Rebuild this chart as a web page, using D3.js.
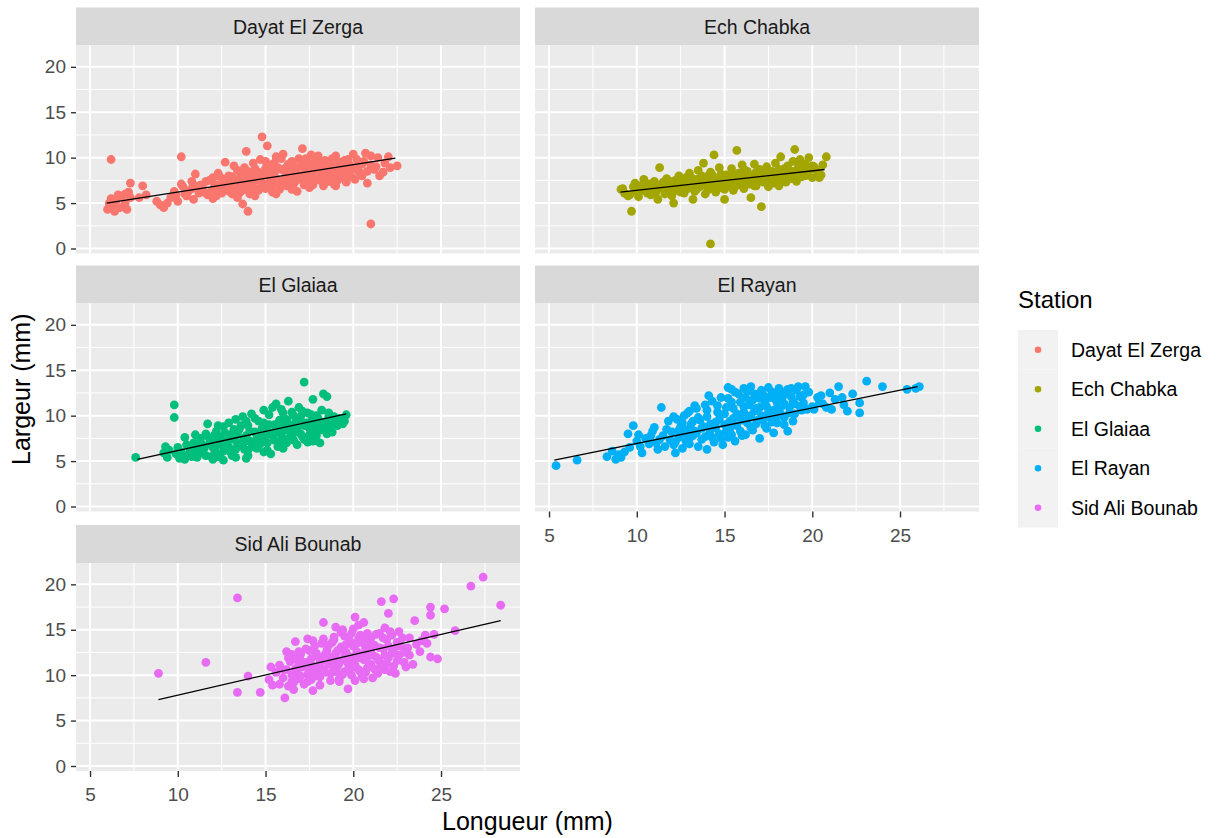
<!DOCTYPE html>
<html>
<head>
<meta charset="utf-8">
<script src="https://cdn.jsdelivr.net/npm/d3@7"></script>
<style>
  body { margin: 0; background: #fff; }
  text { font-family: "Liberation Sans", Arial, sans-serif; }
</style>
</head>
<body>
<svg id="chart" width="1223" height="838"></svg>
<script>
const stations = ['Dayat El Zerga', 'Ech Chabka', 'El Glaiaa', 'El Rayan', 'Sid Ali Bounab'];
const stationColors = ['#F8766D', '#A3A500', '#00BF7D', '#00B0F6', '#E76BF3'];
const xTicks = [5, 10, 15, 20, 25];
const yTicks = [0, 5, 10, 15, 20];

// [longueur, largeur]
const dayatElZerga = [
  [6.0,4.3],[6.1,5.0],[6.2,5.5],[6.3,4.6],[6.4,4.1],[6.1,4.8],[6.5,5.3],[6.7,4.5],[6.8,5.8],[7.0,5.0],
  [7.1,4.3],[7.3,5.6],[7.2,6.2],[7.3,7.2],[6.2,9.8],[6.6,5.9],[7.0,6.0],[7.8,5.6],[8.0,6.9],[8.2,5.9],
  [8.8,5.2],[9.0,4.8],[9.2,4.5],[9.4,5.0],[9.6,5.6],[9.8,6.3],[10.0,5.2],[10.2,7.1],[10.3,6.8],[10.2,10.1],
  [10.5,5.8],[10.6,6.3],[10.8,6.6],[10.9,5.4],[11.0,8.2],[11.2,6.1],[11.3,7.0],[11.5,6.2],[11.7,5.9],[11.8,7.5],
  [12.0,6.4],[12.1,6.9],[12.2,5.8],[12.3,8.3],[12.5,6.1],[12.6,7.2],[12.7,9.5],[12.8,6.6],[12.9,8.0],[13.0,7.4],
  [13.1,6.0],[13.2,9.1],[13.3,6.8],[13.4,8.6],[13.5,7.7],[13.6,6.3],[13.7,4.9],[13.8,8.9],[13.9,10.7],[14.0,4.1],
  [14.0,7.0],[14.1,6.4],[14.2,8.1],[14.3,9.4],[14.4,7.5],[14.5,6.6],[14.6,8.4],[14.7,9.8],[14.8,12.3],[14.8,7.2],
  [15.0,8.8],[15.1,11.3],[15.1,6.8],[15.2,7.9],[15.3,9.2],[15.4,6.2],[15.5,8.3],[15.6,10.1],[15.7,7.4],[15.8,6.5],
  [15.9,8.7],[16.0,10.4],[16.1,7.8],[16.2,9.0],[16.3,6.9],[16.4,8.2],[16.5,9.6],[16.6,7.1],[16.7,8.5],[16.8,6.3],
  [16.9,9.9],[17.0,7.6],[17.1,11.0],[17.2,8.9],[17.3,7.3],[17.4,9.4],[17.5,8.0],[17.6,10.3],[17.7,7.0],[17.8,8.6],
  [17.9,9.1],[18.0,10.2],[18.1,7.5],[18.2,8.3],[18.3,6.9],[18.4,9.7],[18.5,8.0],[18.6,7.4],[18.7,9.2],[18.8,8.7],
  [18.9,7.1],[19.0,10.2],[19.0,6.9],[19.1,8.4],[19.2,9.5],[19.3,7.8],[19.5,8.9],[19.6,7.3],[19.7,9.8],[19.8,8.2],
  [20.0,10.4],[20.1,7.6],[20.2,9.0],[20.3,8.5],[20.5,8.0],[20.6,9.6],[20.7,10.5],[20.8,7.2],[21.0,2.7],[21.0,9.2],
  [21.2,8.7],[21.4,10.0],[21.7,8.4],[21.8,9.4],[22.0,10.1],[22.1,8.9],[22.5,9.1],
  [11.4,6.8],[11.6,7.4],[11.9,6.3],[12.0,7.8],[12.2,7.0],[12.4,6.6],[12.4,7.9],[12.6,6.3],[12.7,7.6],[12.9,6.8],
  [13.0,6.2],[13.1,7.9],[13.2,6.6],[13.3,7.3],[13.5,6.1],[13.6,8.2],[13.7,7.0],[13.8,6.5],[13.9,7.7],[14.0,8.5],
  [14.1,6.0],[14.2,7.3],[14.3,6.8],[14.4,8.8],[14.5,7.9],[14.6,6.4],[14.7,7.5],[14.9,8.1],[15.0,6.6],[15.0,9.6],
  [15.2,7.3],[15.3,8.5],[15.4,7.0],[15.5,9.4],[15.6,7.7],[15.7,8.9],[15.8,7.2],[15.9,9.9],[16.0,7.5],[16.1,8.6],
  [16.2,6.9],[16.3,9.3],[16.4,7.6],[16.5,8.1],[16.6,9.0],[16.7,7.4],[16.8,8.9],[16.9,7.9],[17.0,9.5],[17.1,8.1],
  [17.2,7.0],[17.3,9.9],[17.4,8.3],[17.5,7.4],[17.6,9.0],[17.7,8.2],[17.8,9.7],[17.9,7.7],[18.0,8.9],[18.1,9.6],
  [18.2,7.9],[18.3,8.7],[18.4,7.3],[18.5,9.4],[18.6,8.6],[18.7,7.8],[18.8,9.9],[18.9,8.2],[19.0,9.0],[19.1,7.5],
  [19.2,8.6],[19.3,9.3],[19.4,8.0],[19.5,9.7],[19.6,8.5],[19.8,9.2],[19.9,7.9],[20.0,8.8],[20.2,9.8],[20.4,8.3],
  [20.5,9.3],[20.8,8.5],[21.0,10.2],[21.3,9.0],[21.5,8.0],[11.0,6.9],[10.8,7.4],[10.4,6.0],[9.9,5.9],[12.0,5.5],
  [13.4,5.6],[14.4,5.8],[15.6,6.0],[16.5,6.5],[17.5,6.7]
];

const echChabka = [
  [9.1,6.5],[9.2,6.6],[9.3,6.1],[9.5,5.8],[9.6,5.9],[9.7,4.1],[9.8,6.8],[9.9,7.2],[10.0,6.3],[10.1,5.7],
  [10.2,6.9],[10.4,7.6],[10.5,6.5],[10.6,6.1],[10.7,7.1],[10.8,5.9],[10.9,6.7],[11.0,7.4],[11.1,6.2],[11.2,5.4],
  [11.3,8.9],[11.4,6.8],[11.5,7.3],[11.6,6.0],[11.7,7.7],[11.8,6.5],[11.9,7.0],[12.0,5.8],[12.1,5.0],[12.2,7.5],
  [12.3,6.4],[12.4,8.0],[12.5,6.9],[12.6,7.3],[12.7,6.1],[12.8,7.8],[12.9,6.6],[13.0,8.3],[13.1,7.1],[13.2,5.4],
  [13.3,6.3],[13.4,7.6],[13.5,8.6],[13.6,6.8],[13.7,7.3],[13.8,9.4],[13.9,6.0],[14.0,7.9],[14.1,6.5],[14.2,0.5],
  [14.2,8.4],[14.3,7.0],[14.4,10.3],[14.5,6.2],[14.6,7.7],[14.7,8.9],[14.8,6.7],[14.9,7.4],[15.0,5.4],[15.1,8.1],
  [15.2,6.9],[15.3,7.6],[15.4,8.8],[15.5,6.4],[15.6,7.2],[15.7,10.8],[15.8,8.3],[15.9,7.0],[16.0,9.2],[16.1,6.6],
  [16.2,7.8],[16.3,8.5],[16.4,7.1],[16.5,5.6],[16.6,8.0],[16.7,9.3],[16.8,6.9],[16.9,7.5],[17.0,8.7],[17.1,4.6],
  [17.2,7.3],[17.3,8.2],[17.4,9.0],[17.5,6.8],[17.6,7.9],[17.7,8.5],[17.8,7.2],[17.9,9.4],[18.0,8.0],[18.1,6.9],
  [18.2,10.1],[18.3,7.6],[18.4,8.8],[18.5,7.3],[18.6,9.1],[18.7,8.3],[18.8,7.7],[18.9,9.6],[19.0,10.9],[19.0,8.1],
  [19.1,7.4],[19.2,8.9],[19.3,9.8],[19.4,7.9],[19.5,8.6],[19.6,9.3],[19.7,8.2],[19.8,10.0],[19.9,8.8],[20.0,7.8],
  [20.1,9.0],[20.3,8.4],[20.5,8.1],[20.6,9.2],[20.8,10.1],
  [10.3,6.4],[10.5,7.0],[10.8,6.8],[11.0,6.3],[11.3,7.0],[11.5,6.6],[11.7,6.9],[11.9,7.4],[12.0,6.6],[12.2,6.9],
  [12.4,7.1],[12.5,6.2],[12.7,7.6],[12.9,7.2],[13.0,6.7],[13.1,7.8],[13.3,7.0],[13.4,6.5],[13.6,7.5],[13.7,8.0],
  [13.9,7.1],[14.0,6.8],[14.1,7.6],[14.3,8.1],[14.4,6.9],[14.5,7.4],[14.7,7.1],[14.8,8.2],[15.0,7.3],[15.0,6.5],
  [15.2,7.9],[15.3,7.1],[15.5,8.0],[15.6,6.8],[15.7,7.6],[15.9,8.1],[16.0,7.4],[16.1,8.7],[16.3,7.3],[16.4,8.0],
  [16.6,7.5],[16.7,6.9],[16.8,8.4],[17.0,7.6],[17.1,8.1],[17.3,7.7],[17.4,8.6],[17.6,7.4],[17.7,8.0],[17.9,8.3],
  [18.0,7.5],[18.1,8.7],[18.3,8.1],[18.4,7.7],[18.6,8.4],[18.7,7.9],[18.9,8.5],[19.1,8.2],[19.2,9.5],[19.4,8.4],
  [19.6,8.0],[19.8,8.6],[20.0,9.1],[20.2,8.7],[20.4,7.8]
];

const elGlaiaa = [
  [7.6,5.4],[9.2,5.9],[9.3,6.6],[9.4,5.4],[9.5,6.2],[9.8,11.2],[9.8,9.8],[9.9,5.8],[10.0,6.5],[10.1,5.3],
  [10.2,6.0],[10.4,7.6],[10.4,5.2],[10.5,6.8],[10.6,5.7],[10.7,6.3],[10.8,5.5],[10.9,7.0],[11.0,6.1],[11.1,5.4],
  [11.2,6.7],[11.3,7.5],[11.4,5.9],[11.5,6.4],[11.6,8.0],[11.7,9.1],[11.8,6.9],[11.9,5.5],[12.0,7.3],[12.1,6.2],
  [12.2,8.3],[12.3,6.8],[12.4,5.7],[12.5,7.7],[12.6,8.8],[12.7,6.5],[12.8,7.1],[12.9,9.2],[13.0,6.0],[13.1,5.6],
  [13.1,8.0],[13.2,7.4],[13.3,9.6],[13.4,6.7],[13.5,8.5],[13.6,7.0],[13.7,9.9],[13.8,6.3],[13.9,5.3],[13.9,7.8],
  [14.0,8.9],[14.1,7.2],[14.2,10.2],[14.3,6.6],[14.4,8.2],[14.5,7.5],[14.6,9.4],[14.7,6.9],[14.8,8.6],[14.9,10.6],
  [15.0,7.8],[15.1,6.2],[15.2,9.0],[15.3,8.1],[15.4,10.9],[15.5,7.3],[15.6,11.3],[15.6,8.7],[15.7,6.6],[15.8,9.5],
  [15.9,7.9],[16.0,10.3],[16.1,8.4],[16.2,7.0],[16.3,11.6],[16.3,9.1],[16.4,7.6],[16.5,8.8],[16.6,10.0],[16.7,8.2],
  [16.8,6.8],[16.9,9.6],[17.0,8.0],[17.1,10.5],[17.2,13.7],[17.2,7.4],[17.3,9.2],[17.4,7.1],[17.5,8.6],[17.6,10.1],
  [17.7,11.8],[17.8,9.0],[17.9,7.8],[18.0,9.7],[18.1,8.4],[18.2,10.6],[18.3,12.4],[18.4,9.3],[18.5,8.0],[18.6,9.9],
  [18.8,8.2],[19.0,9.5],[19.1,8.9],[19.3,9.3],[19.4,9.1],[19.6,10.1],[12.0,5.2],[14.0,5.6],[16.0,6.4],[11.0,7.9],
  [12.6,5.1],
  [11.2,6.0],[11.4,6.8],[11.6,5.6],[11.8,7.5],[12.0,6.5],[12.1,7.9],[12.3,5.5],[12.4,7.2],[12.6,6.1],[12.7,8.1],
  [12.9,6.6],[13.0,7.6],[13.2,8.5],[13.3,6.3],[13.4,7.9],[13.6,8.9],[13.7,6.8],[13.8,7.5],[14.0,6.2],[14.1,8.3],
  [14.2,7.0],[14.4,9.7],[14.5,6.4],[14.6,8.0],[14.8,7.2],[14.9,9.2],[15.0,8.4],[15.1,7.0],[15.2,10.1],[15.4,7.8],
  [15.5,9.0],[15.7,8.2],[15.8,7.1],[15.9,10.7],[16.0,8.8],[16.1,7.4],[16.2,9.6],[16.4,8.3],[16.5,10.4],[16.6,7.3],
  [16.7,9.2],[16.8,8.6],[17.0,9.9],[17.1,7.7],[17.2,8.9],[17.4,10.3],[17.5,7.9],[17.6,9.4],[17.8,8.3],[17.9,10.0],
  [18.0,8.8],[18.2,9.2],[18.4,8.5],[18.6,10.3],[18.7,9.0],[18.9,9.9],[19.2,9.7],[19.5,9.4],[15.3,5.8],[14.9,6.0],
  [13.3,5.4],[17.7,7.2],[18.1,7.0],[18.5,12.1],[16.9,10.9],[13.9,9.4],[12.3,8.9]
];

const elRayan = [
  [5.4,4.5],[6.6,5.1],[8.3,5.5],[8.6,6.1],[8.8,5.2],[9.0,5.7],[9.1,5.4],[9.3,6.0],[9.5,8.0],[9.6,6.5],
  [9.8,8.9],[10.0,7.2],[10.2,6.6],[10.3,5.9],[10.5,7.5],[10.7,6.9],[10.9,8.3],[11.0,8.7],[11.1,7.0],[11.2,6.3],
  [11.4,10.9],[11.5,7.8],[11.6,6.6],[11.8,9.4],[11.9,7.3],[12.0,8.2],[12.1,6.8],[12.2,5.9],[12.3,9.6],[12.4,7.6],
  [12.5,8.8],[12.6,6.4],[12.7,10.0],[12.8,7.2],[12.9,8.5],[13.0,10.5],[13.0,6.9],[13.1,9.1],[13.2,7.8],[13.3,8.3],
  [13.4,10.8],[13.5,6.6],[13.6,9.5],[13.7,7.4],[13.8,8.8],[13.9,11.2],[14.0,6.3],[14.0,9.9],[14.1,7.9],[14.2,8.4],
  [14.3,11.6],[14.4,7.1],[14.5,9.3],[14.6,10.4],[14.7,8.0],[14.8,12.0],[14.9,6.8],[15.0,9.0],[15.1,10.9],[15.2,13.1],
  [15.2,7.6],[15.3,8.6],[15.4,11.5],[15.5,9.7],[15.6,7.2],[15.7,10.2],[15.8,12.4],[15.9,8.3],[16.0,9.5],[16.1,11.0],
  [16.2,7.9],[16.3,12.7],[16.4,9.9],[16.5,13.2],[16.5,8.7],[16.6,11.7],[16.7,10.5],[16.8,9.1],[16.9,12.2],[17.0,7.5],
  [17.0,10.9],[17.1,12.8],[17.2,9.6],[17.3,11.4],[17.4,8.6],[17.5,13.1],[17.5,10.3],[17.6,12.0],[17.7,9.3],[17.8,8.1],
  [17.9,11.8],[18.0,12.3],[18.0,9.2],[18.1,10.6],[18.2,12.7],[18.3,11.1],[18.4,9.8],[18.5,12.5],[18.6,8.3],[18.7,10.9],
  [18.8,13.0],[18.9,11.6],[19.0,10.2],[19.2,13.2],[19.3,12.1],[19.4,10.6],[19.5,11.4],[19.7,10.7],[19.8,12.6],[20.0,11.0],
  [20.1,10.7],[20.3,12.0],[20.5,12.2],[20.6,11.3],[20.8,10.9],[21.0,12.5],[21.1,10.7],[21.3,11.8],[21.5,13.2],[21.7,12.0],
  [22.0,10.5],[22.3,12.4],[22.7,11.4],[22.7,10.3],[23.1,13.8],[24.0,13.2],[25.4,12.9],[25.9,13.0],[26.1,13.2],
  [12.2,7.1],[12.4,8.4],[12.6,9.2],[12.8,8.0],[13.0,7.5],[13.2,9.4],[13.4,8.1],[13.5,9.8],[13.7,8.6],[13.9,7.7],
  [14.0,10.6],[14.2,9.1],[14.3,7.6],[14.5,8.7],[14.6,11.1],[14.7,9.6],[14.8,7.5],[15.0,10.2],[15.1,8.3],[15.2,11.9],
  [15.3,9.4],[15.4,7.9],[15.5,10.8],[15.6,12.6],[15.7,8.9],[15.8,9.9],[15.9,11.5],[16.0,7.8],[16.1,10.4],[16.2,12.0],
  [16.3,9.2],[16.4,11.2],[16.5,10.0],[16.6,8.4],[16.7,12.4],[16.8,10.8],[16.9,9.5],[17.0,11.9],[17.1,10.0],[17.2,12.3],
  [17.3,8.9],[17.4,11.0],[17.5,12.0],[17.6,9.8],[17.7,12.6],[17.8,10.6],[17.9,9.7],[18.0,11.4],[18.1,13.0],[18.2,10.2],
  [18.3,12.0],[18.4,11.3],[18.6,12.9],[18.7,10.3],[18.8,12.1],[19.0,11.3],[19.1,12.8],[19.3,11.0],[19.5,12.3],[19.6,13.2],
  [14.1,12.2],[13.3,11.1],[12.9,10.3],[11.7,8.5],[11.3,7.4],[10.8,7.8],[10.1,7.9],[12.1,9.9],[20.4,11.4],[21.8,11.2],
  [18.9,9.4],[18.4,9.0],[16.1,13.0],[15.4,12.9]
];

const sidAliBounab = [
  [8.9,10.2],[11.6,11.4],[13.4,18.5],[13.4,8.1],[14.0,9.9],[14.7,8.1],[15.2,9.5],[15.3,10.9],[15.4,8.9],[15.6,10.3],
  [15.8,11.1],[16.0,9.7],[16.1,7.5],[16.2,12.6],[16.2,10.6],[16.3,8.8],[16.4,11.5],[16.5,10.0],[16.6,9.2],[16.7,13.7],
  [16.7,11.8],[16.8,10.4],[16.9,9.6],[17.0,12.3],[17.1,10.9],[17.2,9.0],[17.3,11.4],[17.4,14.0],[17.4,10.1],[17.5,12.7],
  [17.6,9.5],[17.7,8.3],[17.7,11.0],[17.8,13.2],[17.9,10.5],[18.0,12.0],[18.1,9.8],[18.2,11.6],[18.3,14.0],[18.3,15.8],
  [18.4,10.3],[18.5,12.8],[18.6,11.2],[18.7,9.4],[18.8,13.6],[18.9,10.8],[19.0,15.3],[19.0,12.4],[19.1,11.0],[19.2,9.6],
  [19.3,13.1],[19.4,11.7],[19.5,14.3],[19.5,10.4],[19.6,12.5],[19.7,8.5],[19.7,11.3],[19.8,13.8],[19.9,10.0],[20.0,15.1],
  [20.0,12.0],[20.1,16.4],[20.1,11.1],[20.2,13.5],[20.3,10.6],[20.4,14.4],[20.4,12.3],[20.5,9.9],[20.6,15.8],[20.6,11.7],
  [20.7,13.0],[20.8,10.8],[20.9,12.6],[21.0,14.1],[21.0,11.2],[21.1,9.7],[21.2,13.3],[21.3,12.0],[21.4,10.2],[21.5,14.6],
  [21.5,11.5],[21.6,18.1],[21.7,12.9],[21.8,10.6],[21.9,13.9],[22.0,16.8],[22.0,11.9],[22.1,14.8],[22.2,12.4],[22.3,18.4],
  [22.3,11.0],[22.4,10.2],[22.5,13.6],[22.6,12.2],[22.8,14.1],[22.9,11.4],[23.0,10.9],[23.1,13.0],[23.2,12.2],[23.4,11.2],
  [23.5,16.0],[23.6,13.4],[23.8,12.6],[23.9,13.8],[24.1,14.4],[24.2,13.5],[24.4,17.5],[24.4,16.6],[24.4,12.0],[24.6,14.5],
  [24.8,11.8],[25.2,17.3],[25.8,14.9],[26.7,19.8],[27.4,20.8],[28.4,17.7],[17.0,11.6],[18.0,10.9],[19.0,11.8],[20.0,10.9],
  [21.0,12.8],[19.4,12.9],[20.6,13.9],[18.6,12.1],[16.9,11.2],[15.8,9.0],
  [16.0,10.6],[16.3,11.9],[16.5,9.3],[16.7,10.7],[16.9,12.6],[17.0,9.9],[17.2,11.1],[17.3,12.9],[17.5,10.6],[17.6,11.8],
  [17.8,9.9],[17.9,12.4],[18.1,11.3],[18.2,13.5],[18.3,10.6],[18.4,12.3],[18.6,13.3],[18.7,10.2],[18.8,11.6],[18.9,14.2],
  [19.0,10.4],[19.1,12.7],[19.2,11.3],[19.3,14.7],[19.4,10.1],[19.5,12.1],[19.6,13.4],[19.7,10.6],[19.8,12.0],[19.9,14.6],
  [20.0,11.5],[20.0,13.2],[20.1,9.4],[20.2,12.6],[20.3,14.0],[20.3,11.9],[20.4,10.4],[20.5,13.6],[20.6,12.3],[20.7,10.3],
  [20.8,14.6],[20.8,12.0],[20.9,11.0],[21.0,13.5],[21.1,12.2],[21.2,10.7],[21.3,14.5],[21.4,11.7],[21.5,13.0],[21.6,10.9],
  [21.7,14.1],[21.8,12.2],[21.9,11.3],[22.0,13.2],[22.1,10.4],[22.2,14.4],[22.3,12.8],[22.5,11.6],[22.7,13.2],[22.9,12.5],
  [21.8,15.2],[20.3,15.5],[19.4,15.0],[18.9,13.9],[17.7,13.8],[16.5,12.3],[22.6,14.8],[23.2,14.1],[20.6,9.6],[19.2,9.3],
  [17.4,9.3],[16.6,8.4],[18.1,8.9]
];

// fitted lm lines [x start, y start, x end, y end]
const trendLines = [
  [5.95, 5.0, 22.4, 9.95],
  [9.07, 6.2, 20.7, 8.7],
  [7.7, 5.2, 19.6, 10.2],
  [5.3, 5.1, 26.0, 13.2],
  [8.9, 7.3, 28.4, 16.0]
];

const stationPoints = [dayatElZerga, echChabka, elGlaiaa, elRayan, sidAliBounab];

const COL_X = [76, 535];
const ROW_TOP = [7.5, 265.5, 525];
const STRIP_H = 38;
const PANEL_W = 444;
const PANEL_H = 208;

const x = d3.scaleLinear().domain([4.2, 29.5]).range([0, PANEL_W]);
const y = d3.scaleLinear().domain([-0.55, 22.35]).range([PANEL_H, 0]);

const midpoints = (ticks, scale) => {
  const step = ticks[1] - ticks[0];
  const [lo, hi] = scale.domain();
  return d3.range(ticks[0] - step / 2, hi, step).filter((v) => v > lo && v < hi);
};
const xMinor = midpoints(xTicks, x);
const yMinor = midpoints(yTicks, y);

const svg = d3.select('#chart');

const styleAxis = (g) => {
  g.select('.domain').remove();
  g.selectAll('.tick line').attr('stroke', '#333333').attr('stroke-width', 1.4);
  g.selectAll('.tick text')
    .attr('fill', '#4D4D4D')
    .style('font-size', '19px')
    .style('font-family', '"Liberation Sans", Arial, sans-serif');
};

stations.forEach((name, i) => {
  const row = Math.floor(i / 2);
  const col = i % 2;
  const left = COL_X[col];
  const top = ROW_TOP[row];

  const strip = svg.append('g').attr('transform', `translate(${left},${top})`);
  strip.append('rect')
    .attr('width', PANEL_W)
    .attr('height', STRIP_H)
    .attr('fill', '#D9D9D9');
  strip.append('text')
    .attr('x', PANEL_W / 2)
    .attr('y', STRIP_H / 2)
    .attr('text-anchor', 'middle')
    .attr('dominant-baseline', 'central')
    .attr('fill', '#1A1A1A')
    .style('font-size', '19.5px')
    .text(name);

  const panel = svg.append('g').attr('transform', `translate(${left},${top + STRIP_H})`);
  panel.append('rect')
    .attr('width', PANEL_W)
    .attr('height', PANEL_H)
    .attr('fill', '#EBEBEB');

  const grid = panel.append('g').attr('stroke', '#FFFFFF').attr('fill', 'none');
  grid.selectAll('.xminor').data(xMinor).join('line')
    .attr('x1', (d) => x(d)).attr('x2', (d) => x(d))
    .attr('y1', 0).attr('y2', PANEL_H).attr('stroke-width', 1);
  grid.selectAll('.yminor').data(yMinor).join('line')
    .attr('y1', (d) => y(d)).attr('y2', (d) => y(d))
    .attr('x1', 0).attr('x2', PANEL_W).attr('stroke-width', 1);
  grid.selectAll('.xmajor').data(xTicks).join('line')
    .attr('x1', (d) => x(d)).attr('x2', (d) => x(d))
    .attr('y1', 0).attr('y2', PANEL_H).attr('stroke-width', 2);
  grid.selectAll('.ymajor').data(yTicks).join('line')
    .attr('y1', (d) => y(d)).attr('y2', (d) => y(d))
    .attr('x1', 0).attr('x2', PANEL_W).attr('stroke-width', 2);

  panel.append('g')
    .selectAll('circle')
    .data(stationPoints[i])
    .join('circle')
    .attr('cx', (d) => x(d[0]))
    .attr('cy', (d) => y(d[1]))
    .attr('r', 4.4)
    .attr('fill', stationColors[i]);

  const [x0, y0, x1, y1] = trendLines[i];
  panel.append('line')
    .attr('x1', x(x0)).attr('y1', y(y0))
    .attr('x2', x(x1)).attr('y2', y(y1))
    .attr('stroke', '#000000')
    .attr('stroke-width', 1.3);

  if (col === 0) {
    panel.append('g')
      .call(d3.axisLeft(y).tickValues(yTicks).tickSize(5).tickPadding(5))
      .call(styleAxis);
  }
  // x axis under the last panel of each column
  if (i + 2 >= stations.length) {
    panel.append('g')
      .attr('transform', `translate(0,${PANEL_H})`)
      .call(d3.axisBottom(x).tickValues(xTicks).tickSize(6).tickPadding(11))
      .call(styleAxis);
  }
});

// axis titles
svg.append('text')
  .attr('x', (COL_X[0] + COL_X[1] + PANEL_W) / 2)
  .attr('y', 830)
  .attr('text-anchor', 'middle')
  .style('font-size', '25px')
  .text('Longueur (mm)');

svg.append('text')
  .attr('transform', `translate(30,${(ROW_TOP[0] + ROW_TOP[2] + STRIP_H + PANEL_H) / 2}) rotate(-90)`)
  .attr('text-anchor', 'middle')
  .style('font-size', '25px')
  .text('Largeur (mm)');

// legend
const legend = svg.append('g').attr('transform', 'translate(1018,0)');
legend.append('text')
  .attr('x', 0)
  .attr('y', 308)
  .style('font-size', '24px')
  .text('Station');

const KEY = 39.5;
const keys = legend.selectAll('.key').data(stations).join('g')
  .attr('transform', (d, i) => `translate(0,${330 + i * KEY})`);
keys.append('rect')
  .attr('width', 40)
  .attr('height', KEY)
  .attr('fill', '#F2F2F2');
keys.append('circle')
  .attr('cx', 20)
  .attr('cy', KEY / 2)
  .attr('r', 3.3)
  .attr('fill', (d, i) => stationColors[i]);
keys.append('text')
  .attr('x', 53)
  .attr('y', KEY / 2)
  .attr('dominant-baseline', 'central')
  .style('font-size', '19.5px')
  .text((d) => d);
</script>
</body>
</html>
